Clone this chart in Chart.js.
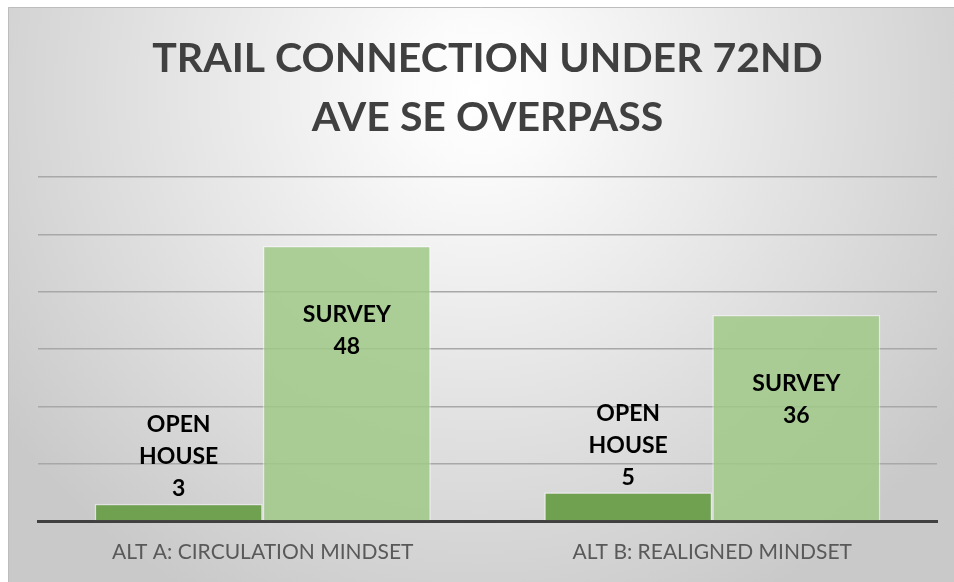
<!DOCTYPE html>
<html>
<head>
<meta charset="utf-8">
<script src="https://cdn.jsdelivr.net/npm/chart.js@4.4.1/dist/chart.umd.min.js"></script>
<style>
  html, body { margin: 0; padding: 0; background: #ffffff; }
  #wrap { position: relative; width: 954px; height: 582px; }
  canvas { display: block; }
</style>
</head>
<body>
<div id="wrap"><canvas id="c" width="954" height="582"></canvas></div>
<script>
const titleLines = ["TRAIL CONNECTION UNDER 72ND", "AVE SE OVERPASS"];
const categories = ["ALT A: CIRCULATION MINDSET", "ALT B: REALIGNED MINDSET"];
const seriesNames = ["OPEN HOUSE", "SURVEY"];
const openHouseValues = [3, 5];
const surveyValues = [48, 36];
const yTicks = [0, 10, 20, 30, 40, 50, 60];

const FONT = "Lato, 'Open Sans', sans-serif";

const bgPlugin = {
  id: 'bg',
  beforeDraw(chart) {
    const ctx = chart.ctx;
    const W = chart.width, H = chart.height;
    ctx.save();
    ctx.fillStyle = '#ffffff';
    ctx.fillRect(0, 0, W, H);
    const g = ctx.createRadialGradient(477, 90, 0, 477, 90, 580);
    g.addColorStop(0, '#ffffff');
    g.addColorStop(0.12, '#fbfbfb');
    g.addColorStop(1, '#c9c9c9');
    ctx.fillStyle = g;
    ctx.fillRect(8, 7, W - 8, H - 7);
    ctx.strokeStyle = '#bdbdbd';
    ctx.lineWidth = 1;
    ctx.beginPath();
    ctx.moveTo(8.5, H);
    ctx.lineTo(8.5, 7.5);
    ctx.lineTo(W, 7.5);
    ctx.stroke();
    ctx.restore();
  }
};

const labelPlugin = {
  id: 'barLabels',
  afterDatasetsDraw(chart) {
    const ctx = chart.ctx;
    ctx.save();
    ctx.font = "bold 23px " + FONT;
    ctx.fillStyle = '#000000';
    ctx.textAlign = 'center';
    ctx.textBaseline = 'middle';
    const lh = 32;
    chart.data.datasets.forEach((ds, i) => {
      const meta = chart.getDatasetMeta(i);
      meta.data.forEach((bar, j) => {
        const lines = seriesNames[i].split(' ').concat([String(ds.data[j])]);
        if (i === 0) {
          const lastY = bar.y - 15;
          lines.forEach((t, k) => {
            ctx.fillText(t, bar.x, lastY - (lines.length - 1 - k) * lh);
          });
        } else {
          const firstY = bar.y + 69;
          lines.forEach((t, k) => {
            ctx.fillText(t, bar.x, firstY + k * lh);
          });
        }
      });
    });
    ctx.restore();
  }
};

new Chart(document.getElementById('c'), {
  type: 'bar',
  data: {
    labels: categories,
    datasets: [
      {
        label: seriesNames[0],
        data: openHouseValues,
        backgroundColor: '#6fa150',
        borderColor: 'rgba(255,255,255,0.45)',
        borderWidth: 1.5,
        categoryPercentage: 0.748,
        barPercentage: 1.0
      },
      {
        label: seriesNames[1],
        data: surveyValues,
        backgroundColor: 'rgba(160,200,135,0.85)',
        borderColor: 'rgba(255,255,255,0.45)',
        borderWidth: 1.5,
        categoryPercentage: 0.748,
        barPercentage: 1.0
      }
    ]
  },
  options: {
    responsive: false,
    animation: false,
    layout: { padding: { left: 38, right: 17, top: 0, bottom: 0 } },
    plugins: {
      legend: { display: false },
      tooltip: { enabled: false },
      title: {
        display: true,
        text: titleLines,
        color: '#404040',
        font: { family: FONT, size: 41, weight: 'bold', lineHeight: 1.44 },
        padding: { top: 29.5, bottom: 29.5 }
      }
    },
    scales: {
      x: {
        afterFit(scale) { scale.height = 61; },
        grid: { display: false, drawTicks: false },
        border: { display: true, color: '#404040', width: 3 },
        ticks: {
          color: '#595959',
          font: { family: FONT, size: 21 },
          padding: 19
        }
      },
      y: {
        min: yTicks[0],
        max: yTicks[yTicks.length - 1],
        afterBuildTicks(axis) { axis.ticks = yTicks.map(v => ({ value: v })); },
        ticks: { display: false },
        border: { display: false },
        grid: { color: '#a8a8a8', lineWidth: 1.5, drawTicks: false }
      }
    }
  },
  plugins: [bgPlugin, labelPlugin]
});
</script>
</body>
</html>
